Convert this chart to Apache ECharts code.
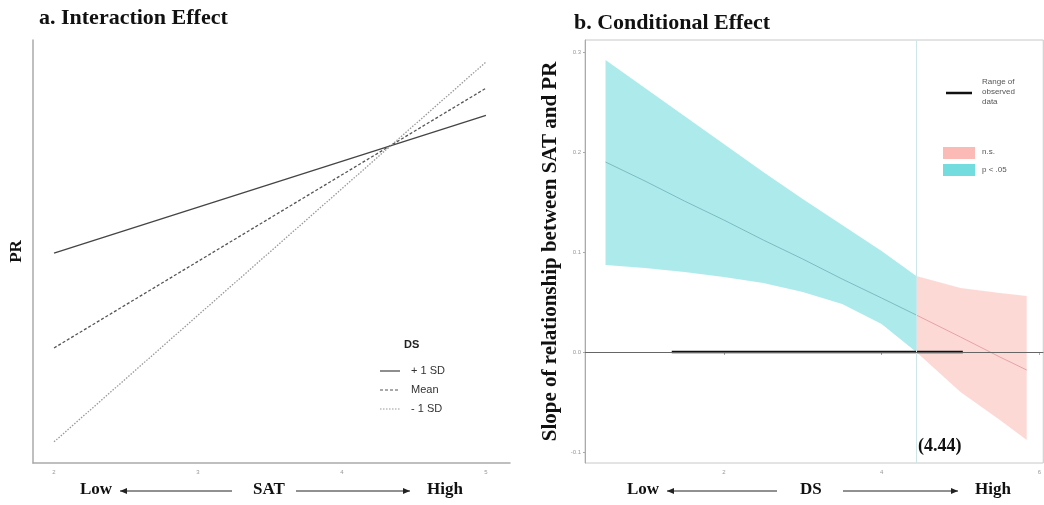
<!DOCTYPE html>
<html>
<head>
<meta charset="utf-8">
<script src="https://cdn.jsdelivr.net/npm/echarts@6/dist/echarts.min.js"></script>
<style>html,body{margin:0;padding:0;background:#fff;}#c{width:1044px;height:505px;}</style>
</head>
<body>
<div id="c"></div>
<script>
// ---- Panel a: Interaction effect ----
var satX = [2, 5];
var plus1SD = [2.48, 4.11];
var meanDS = [1.36, 4.43];
var minus1SD = [0.25, 4.74];
var satTicks = [2, 3, 4, 5];

// ---- Panel b: Conditional effect (Johnson-Neyman) ----
var dsX =    [0.5,   1.0,   1.5,   2.0,   2.5,   3.0,   3.5,   4.0,   4.44,  5.0,    5.5,    5.84];
var slope =  [0.190, 0.171, 0.151, 0.132, 0.112, 0.093, 0.073, 0.054, 0.037, 0.015, -0.005, -0.018];
var upper =  [0.292, 0.264, 0.236, 0.208, 0.180, 0.153, 0.127, 0.101, 0.076, 0.064,  0.059,  0.056];
var lower =  [0.087, 0.084, 0.080, 0.075, 0.069, 0.060, 0.048, 0.028, 0.000, -0.040, -0.068, -0.088];
var jnPoint = 4.44;
var observedRange = [1.34, 5.03];
var dsTicks = [2, 4, 6];
var slopeTicks = [-0.1, 0.0, 0.1, 0.2, 0.3];

var sigEnd = dsX.indexOf(jnPoint);
function pairs(xs, ys, a, b) { var r = []; for (var i = a; i <= b; i++) r.push([xs[i], ys[i]]); return r; }

function bandSeries(a, b, color) {
  return {
    type: 'custom', xAxisIndex: 1, yAxisIndex: 1, silent: true, z: 1,
    data: [[dsX[a], upper[a]]],
    renderItem: function (params, api) {
      var pts = [];
      for (var i = a; i <= b; i++) pts.push(api.coord([dsX[i], upper[i]]));
      for (var j = b; j >= a; j--) pts.push(api.coord([dsX[j], lower[j]]));
      return { type: 'polygon', shape: { points: pts, smooth: 0 }, style: { fill: color } };
    }
  };
}

var serif = '"Liberation Serif", "DejaVu Serif", serif';
var sans = '"Liberation Sans", Arial, sans-serif';

function arrow(x1, x2, y, headLeft) {
  var hx = headLeft ? x1 : x2, d = headLeft ? 7 : -7;
  return [
    { type: 'line', shape: { x1: x1, y1: y, x2: x2, y2: y }, style: { stroke: '#222', lineWidth: 1 } },
    { type: 'polygon', shape: { points: [[hx, y], [hx + d, y - 3], [hx + d, y + 3]] }, style: { fill: '#222' } }
  ];
}

var chart = echarts.init(document.getElementById('c'));
var graphics = [
  { type: 'text', left: 80, top: 481, style: { text: 'Low', font: 'bold 17px ' + serif, fill: '#111' } },
  { type: 'text', left: 253, top: 481, style: { text: 'SAT', font: 'bold 17px ' + serif, fill: '#111' } },
  { type: 'text', left: 427, top: 481, style: { text: 'High', font: 'bold 17px ' + serif, fill: '#111' } },
  { type: 'text', left: 627, top: 481, style: { text: 'Low', font: 'bold 17px ' + serif, fill: '#111' } },
  { type: 'text', left: 800, top: 481, style: { text: 'DS', font: 'bold 17px ' + serif, fill: '#111' } },
  { type: 'text', left: 975, top: 481, style: { text: 'High', font: 'bold 17px ' + serif, fill: '#111' } },
  { type: 'text', left: 918, top: 437, style: { text: '(4.44)', font: 'bold 18px ' + serif, fill: '#111' } },
  // legend a
  { type: 'text', left: 404, top: 339, style: { text: 'DS', font: 'bold 11px ' + sans, fill: '#222' } },
  { type: 'line', shape: { x1: 380, y1: 371, x2: 400, y2: 371 }, style: { stroke: '#444', lineWidth: 1.2 } },
  { type: 'line', shape: { x1: 380, y1: 390, x2: 400, y2: 390 }, style: { stroke: '#555', lineWidth: 1.2, lineDash: [3, 2] } },
  { type: 'line', shape: { x1: 380, y1: 409, x2: 400, y2: 409 }, style: { stroke: '#999', lineWidth: 1.2, lineDash: [1.5, 1.5] } },
  { type: 'text', left: 411, top: 365, style: { text: '+ 1 SD', font: '11px ' + sans, fill: '#333' } },
  { type: 'text', left: 411, top: 384, style: { text: 'Mean', font: '11px ' + sans, fill: '#333' } },
  { type: 'text', left: 411, top: 403, style: { text: '- 1 SD', font: '11px ' + sans, fill: '#333' } },
  // legend b
  { type: 'line', shape: { x1: 946, y1: 93, x2: 972, y2: 93 }, style: { stroke: '#111', lineWidth: 2.5 } },
  { type: 'text', left: 982, top: 77, style: { text: 'Range of\nobserved\ndata', font: '8px ' + sans, fill: '#555', lineHeight: 10 } },
  { type: 'rect', shape: { x: 943, y: 147, width: 32, height: 12 }, style: { fill: 'rgba(248,118,109,0.5)' } },
  { type: 'rect', shape: { x: 943, y: 164, width: 32, height: 12 }, style: { fill: 'rgba(0,191,196,0.55)' } },
  { type: 'text', left: 982, top: 148, style: { text: 'n.s.', font: '8px ' + sans, fill: '#555' } },
  { type: 'text', left: 982, top: 166, style: { text: 'p < .05', font: '8px ' + sans, fill: '#555' } }
].concat(arrow(120, 232, 491, true), arrow(296, 410, 491, false), arrow(667, 777, 491, true), arrow(843, 958, 491, false));

var option = {
  animation: false,
  backgroundColor: '#fff',
  title: [
    { text: 'a. Interaction Effect', left: 34, top: 2, textStyle: { fontFamily: serif, fontWeight: 'bold', fontSize: 22, color: '#111' } },
    { text: 'b. Conditional Effect', left: 569, top: 7, textStyle: { fontFamily: serif, fontWeight: 'bold', fontSize: 22, color: '#111' } }
  ],
  grid: [
    { left: 33, right: 534, top: 40, bottom: 42 },
    { left: 585, right: 0, top: 40, bottom: 42, show: true, borderColor: '#c8c8c8', borderWidth: 1, backgroundColor: 'transparent' }
  ],
  xAxis: [
    { type: 'value', gridIndex: 0, min: 1.854, max: 5.167,
      axisLine: { show: true, lineStyle: { color: '#aaa', width: 1.5 } }, splitLine: { show: false },
      axisTick: { show: false },
      axisLabel: { customValues: satTicks, fontSize: 6, color: '#999', margin: 6 } },
    { type: 'value', gridIndex: 1, min: 0.24, max: 6.05,
      axisLine: { show: true, lineStyle: { color: '#aaa', width: 1 } }, splitLine: { show: false },
      axisTick: { show: true, customValues: dsTicks, length: 3, lineStyle: { color: '#aaa' } },
      axisLabel: { customValues: dsTicks, fontSize: 6, color: '#999', margin: 6 } }
  ],
  yAxis: [
    { type: 'value', gridIndex: 0, min: 0, max: 5, name: 'PR', nameLocation: 'middle', nameGap: 8,
      nameTextStyle: { fontFamily: serif, fontWeight: 'bold', fontSize: 17, color: '#111' },
      axisLine: { show: true, lineStyle: { color: '#aaa', width: 1.5 } }, splitLine: { show: false },
      axisTick: { show: false }, axisLabel: { show: false } },
    { type: 'value', gridIndex: 1, min: -0.111, max: 0.312,
      name: 'Slope of relationship between SAT and PR', nameLocation: 'middle', nameGap: 24,
      nameTextStyle: { fontFamily: serif, fontWeight: 'bold', fontSize: 21, color: '#111' },
      axisLine: { show: true, lineStyle: { color: '#aaa', width: 1 } }, splitLine: { show: false },
      axisTick: { show: true, customValues: slopeTicks, length: 2, lineStyle: { color: '#aaa' } },
      axisLabel: { customValues: slopeTicks, fontSize: 6, color: '#999', margin: 4,
        formatter: function (v) { return v.toFixed(1); } } }
  ],
  graphic: graphics,
  series: [
    { type: 'line', name: '+ 1 SD', xAxisIndex: 0, yAxisIndex: 0, data: pairs(satX, plus1SD, 0, 1), showSymbol: false,
      lineStyle: { color: '#444', width: 1.3 } },
    { type: 'line', name: 'Mean', xAxisIndex: 0, yAxisIndex: 0, data: pairs(satX, meanDS, 0, 1), showSymbol: false,
      lineStyle: { color: '#555', width: 1.3, type: [3, 2] } },
    { type: 'line', name: '- 1 SD', xAxisIndex: 0, yAxisIndex: 0, data: pairs(satX, minus1SD, 0, 1), showSymbol: false,
      lineStyle: { color: '#999', width: 1.3, type: [1.5, 1.5] } },
    bandSeries(0, sigEnd, 'rgba(0,191,196,0.32)'),
    bandSeries(sigEnd, dsX.length - 1, 'rgba(248,118,109,0.28)'),
    { type: 'line', xAxisIndex: 1, yAxisIndex: 1, data: pairs(dsX, slope, 0, sigEnd), showSymbol: false, z: 3,
      lineStyle: { color: '#7bbcc2', width: 1 },
      markLine: { silent: true, symbol: 'none', label: { show: false },
        lineStyle: { color: '#cfe6e8', width: 1, type: 'solid' }, data: [{ xAxis: jnPoint }] } },
    { type: 'line', xAxisIndex: 1, yAxisIndex: 1, data: pairs(dsX, slope, sigEnd, dsX.length - 1), showSymbol: false, z: 3,
      lineStyle: { color: '#e5a3a8', width: 1 },
      markLine: { silent: true, symbol: 'none', label: { show: false },
        lineStyle: { color: '#666', width: 1, type: 'solid' }, data: [{ yAxis: 0 }] } },
    { type: 'line', xAxisIndex: 1, yAxisIndex: 1, data: [[observedRange[0], 0], [observedRange[1], 0]], showSymbol: false, z: 4,
      lineStyle: { color: '#111', width: 2.5 } }
  ]
};
chart.setOption(option);
</script>
</body>
</html>
